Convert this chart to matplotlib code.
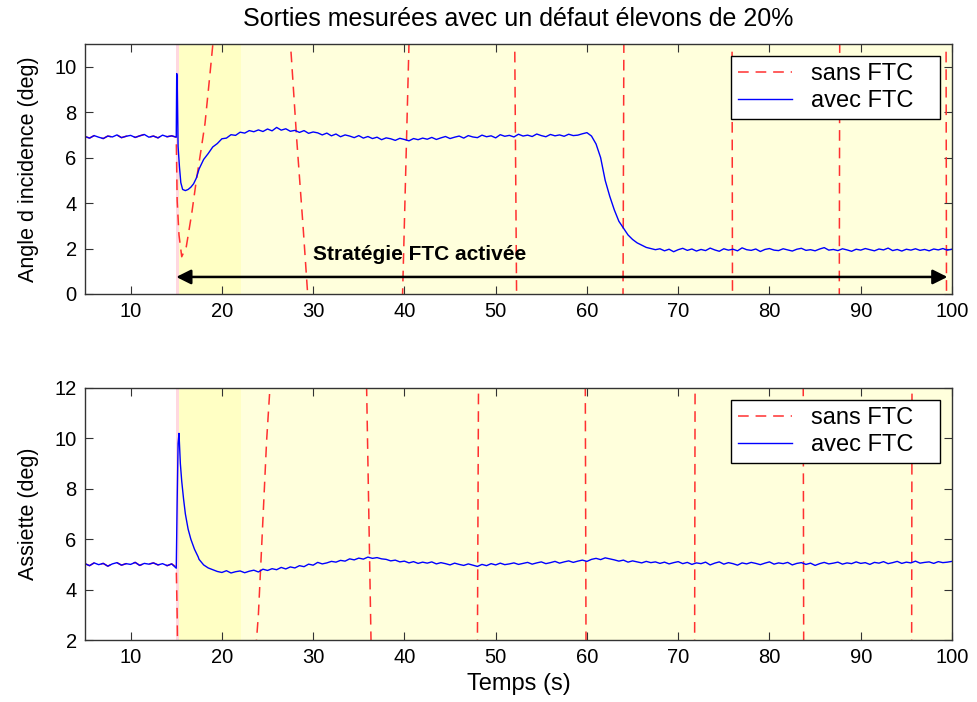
import matplotlib
matplotlib.use('Agg')
import matplotlib.pyplot as plt
import numpy as np

plt.rcParams['font.family'] = ['Liberation Sans', 'DejaVu Sans']

# --- angle d'incidence, avec FTC ---
incidence_avant = [6.93, 6.86, 6.97, 6.90, 6.84, 6.95, 6.91, 7.00, 6.88, 6.94,
                   6.98, 6.89, 6.96, 7.02, 6.90, 6.95, 6.87, 6.99, 6.92, 6.96]
t_incidence_trans = [15.0, 15.05, 15.1, 15.2, 15.35, 15.5, 15.7, 16.0, 16.3, 16.6, 16.9, 17.2]
incidence_trans = [6.9, 9.7, 9.5, 6.5, 5.6, 4.9, 4.6, 4.55, 4.6, 4.7, 4.85, 5.1]
incidence_apres = [
    5.5, 5.92, 6.18, 6.47, 6.62, 6.83, 6.86, 7.01, 6.98, 7.12,
    7.08, 7.19, 7.14, 7.22, 7.15, 7.26, 7.18, 7.33, 7.21, 7.27,
    7.16, 7.2, 7.11, 7.19, 7.07, 7.13, 7.09, 7.0, 7.08, 6.96,
    7.04, 6.92, 7.0, 6.95, 6.88, 6.97, 6.86, 6.93, 6.84, 6.9,
    6.79, 6.87, 6.83, 6.76, 6.85, 6.8, 6.74, 6.84, 6.79, 6.86,
    6.81, 6.89, 6.8, 6.87, 6.93, 6.84, 6.9, 6.95, 6.86, 6.97,
    6.91, 6.88, 6.99, 6.92, 6.96, 6.87, 7.01, 6.94, 6.98, 6.91,
    7.03, 6.95, 6.99, 6.93, 7.04, 6.97, 6.92, 7.02, 6.96, 7.0,
    6.94, 7.03, 6.97, 6.99, 7.05, 7.1, 6.95, 6.6, 6.0, 5.0,
    4.3, 3.7, 3.2, 2.9, 2.6, 2.4, 2.25, 2.15, 2.05, 2.0,
    1.95, 1.99, 1.9, 1.97, 1.86, 1.95, 2.01, 1.92, 1.98, 1.89,
    1.96, 1.91, 2.02, 1.94, 1.88, 1.99, 1.93, 1.97, 1.9, 2.03,
    1.95, 1.92, 1.98, 1.87, 1.96, 2.0, 1.93, 1.91, 1.99, 1.94,
    1.89, 1.97, 2.01, 1.92, 1.95, 1.9, 1.98, 2.04, 1.93, 1.96,
    1.91, 1.99, 1.94, 1.88, 1.97, 1.93, 2.0, 1.95, 1.9, 1.98,
    1.94, 2.02, 1.91, 1.96, 1.89, 1.97, 1.93, 1.99, 1.92, 1.96,
    1.9, 1.98, 1.94, 2.0, 1.93, 1.97]

# --- assiette, avec FTC ---
assiette_avant = [5.03, 4.95, 5.06, 4.99, 5.04, 4.93, 5.02, 5.07, 4.97, 5.03,
                  5.00, 5.08, 4.96, 5.04, 5.01, 5.06, 4.98, 5.03, 4.95, 5.02]
t_assiette_trans = [15.0, 15.1, 15.2, 15.3, 15.45, 15.6, 15.8, 16.0, 16.3, 16.6, 17.0, 17.4]
assiette_trans = [4.85, 7.5, 9.8, 10.2, 9.0, 8.3, 7.6, 7.0, 6.4, 6.0, 5.6, 5.3]
assiette_apres = [
    5.2, 4.98, 4.86, 4.79, 4.72, 4.68, 4.75, 4.66, 4.71, 4.74,
    4.67, 4.73, 4.77, 4.7, 4.81, 4.76, 4.83, 4.79, 4.88, 4.82,
    4.9, 4.86, 4.95, 4.91, 5.01, 4.97, 5.08, 5.02, 5.06, 5.12,
    5.09, 5.16, 5.13, 5.22, 5.18, 5.25, 5.21, 5.29, 5.24, 5.27,
    5.22, 5.2, 5.14, 5.17, 5.1, 5.13, 5.06, 5.11, 5.04, 5.09,
    5.05, 5.1, 5.02, 5.07, 5.03, 4.98, 5.05, 5.0, 4.96, 5.02,
    4.97, 4.92, 5.0, 4.95, 5.03, 4.98, 5.05, 4.99, 5.02, 5.06,
    5.0, 5.04, 5.08, 5.01, 5.06, 5.1, 5.03, 5.07, 5.12, 5.05,
    5.1, 5.14, 5.08, 5.13, 5.17, 5.12, 5.2, 5.24, 5.19, 5.26,
    5.22, 5.18, 5.13, 5.17, 5.09, 5.14, 5.1, 5.06, 5.12, 5.07,
    5.1, 5.04, 5.09, 5.02, 5.07, 5.11, 5.03, 5.08, 5.0, 5.06,
    5.03, 5.09, 4.98, 5.05, 5.1, 5.01, 5.07, 5.03, 4.97, 5.06,
    5.02, 5.08, 5.04, 4.99, 5.05, 5.1, 5.01, 5.06, 5.03, 5.08,
    4.98, 5.04, 5.07, 5.0, 5.05, 4.96, 5.03, 5.08, 5.02, 5.05,
    5.09, 5.01, 5.06, 5.03, 5.1, 5.04, 5.07, 5.0, 5.08, 5.05,
    5.11, 5.03, 5.07, 5.12, 5.04, 5.09, 5.06, 5.13, 5.05, 5.08,
    5.1, 5.04, 5.11, 5.07, 5.09, 5.12]

# --- sans FTC (oscillation divergente, sort de l'echelle) ---
t_sans_inc = [15.0, 15.1, 15.3, 15.6, 16.1, 16.7, 17.2, 17.7, 18.15, 18.7, 19.0, 19.3,
              23.5, 27.3, 27.6, 28.2, 28.9, 29.4, 29.6, 34.7, 39.7, 39.8, 40.5, 40.6,
              46.3, 52.08, 52.3, 58.0, 63.95, 64.05, 70.0, 75.9, 75.95, 82.0,
              87.65, 87.7, 93.5, 99.35, 99.4, 100.0]
sans_inc = [6.9, 4.1, 2.6, 1.64, 2.08, 3.55, 5.0, 6.3, 7.5, 9.7, 10.95, 12.2,
            120, 12.2, 10.5, 6.8, 2.95, 0.0, -1.2, -150, -1.0, 0.0, 11.0, 12.0,
            200, 11.5, -0.5, -300, -0.5, 11.5, 400, 11.5, -0.5, -500,
            -0.5, 11.5, 600, 11.5, -0.5, -40]
t_sans_ass = [15.0, 15.1, 15.15, 19.5, 23.75, 24.0, 24.35, 24.9, 25.3, 30.6,
              35.85, 36.1, 36.35, 42.2, 48.0, 48.12, 54.0, 59.82, 59.9, 66.0,
              71.8, 71.85, 78.0, 83.7, 83.75, 90.0, 95.58, 95.62, 100.0]
sans_ass = [4.9, 3.0, 1.5, -100, 1.8, 3.0, 5.65, 9.9, 12.2, 200,
            12.2, 7.0, 1.8, -250, 1.8, 12.2, 300, 12.2, 1.8, -350,
            1.8, 12.2, 400, 12.2, 1.8, -450, 1.8, 12.2, 120]

t_avant = 5.0 + 0.5 * np.arange(len(incidence_avant))
t_inc_apres = 17.5 + 0.5 * np.arange(len(incidence_apres))
t_ass_apres = 17.5 + 0.5 * np.arange(len(assiette_apres))

t_inc = np.concatenate([t_avant, t_incidence_trans, t_inc_apres])
inc = np.concatenate([incidence_avant, incidence_trans, incidence_apres])
t_ass = np.concatenate([t_avant, t_assiette_trans, t_ass_apres])
ass = np.concatenate([assiette_avant, assiette_trans, assiette_apres])

t_red_inc = np.concatenate([t_avant, t_sans_inc])
red_inc = np.concatenate([incidence_avant, sans_inc])
t_red_ass = np.concatenate([t_avant, t_sans_ass])
red_ass = np.concatenate([assiette_avant, sans_ass])

fig = plt.figure(figsize=(9.78, 7.02), dpi=100)
ax1 = fig.add_axes([0.0869, 0.5812, 0.8865, 0.3561])
ax2 = fig.add_axes([0.0869, 0.0883, 0.8865, 0.3590])

for ax in (ax1, ax2):
    ax.axvspan(15.0, 15.25, color='#ffd8e0', lw=0)
    ax.axvspan(15.25, 22.1, color='#ffffc4', lw=0)
    ax.axvspan(22.1, 100, color='#ffffdc', lw=0)

dash = (0, (7, 4.5))
ax1.plot(t_red_inc, red_inc, color='#ff3030', ls=dash, lw=1.1, label='sans FTC   ')
ax1.plot(t_inc, inc, color='#0000ff', lw=1.0, label='avec FTC   ')
ax2.plot(t_red_ass, red_ass, color='#ff3030', ls=dash, lw=1.1, label='sans FTC   ')
ax2.plot(t_ass, ass, color='#0000ff', lw=1.0, label='avec FTC   ')

ax1.set_ylim(0, 11)
ax1.set_yticks([0, 2, 4, 6, 8, 10])
ax2.set_ylim(2, 12)
ax2.set_yticks([2, 4, 6, 8, 10, 12])

for ax in (ax1, ax2):
    ax.set_xlim(5, 100)
    ax.set_xticks(range(10, 101, 10))
    ax.tick_params(direction='in', length=6, width=0.8, top=True, right=True,
                   labelsize=14.5, colors='#333333', labelcolor='black', pad=6)
    for s in ax.spines.values():
        s.set_color('#333333')
        s.set_linewidth(1.0)
    leg = ax.legend(loc='upper right', fontsize=17, fancybox=False, framealpha=1,
                    edgecolor='black', handlelength=2.3, borderaxespad=0.5,
                    borderpad=0.3, labelspacing=0.22, handletextpad=0.8)
    leg.get_frame().set_linewidth(1.0)

ax1.annotate('', xy=(15.0, 0.75), xytext=(99.5, 0.75),
             arrowprops=dict(arrowstyle='<|-|>', color='black', lw=1.8,
                             mutation_scale=22, shrinkA=0, shrinkB=0))
ax1.text(41.7, 1.75, 'Stratégie FTC activée', fontsize=15, fontweight='bold',
         ha='center', va='center')

ax1.set_title('Sorties mesurées avec un défaut élevons de 20%', fontsize=18, pad=13)
ax1.set_ylabel('Angle d incidence (deg)', fontsize=15.5, labelpad=11)
ax2.set_ylabel('Assiette (deg)', fontsize=15.5, labelpad=11)
ax2.set_xlabel('Temps (s)', fontsize=17, labelpad=4)

fig.savefig('out.png', dpi=100)
